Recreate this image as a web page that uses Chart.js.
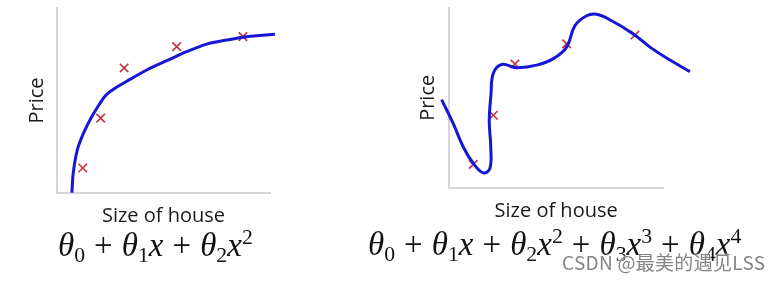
<!DOCTYPE html>
<html>
<head>
<meta charset="utf-8">
<script src="https://cdn.jsdelivr.net/npm/chart.js@4"></script>
<style>
  body { margin: 0; background: #fff; }
  #wrap { position: relative; width: 779px; height: 282px; overflow: hidden; background: #fff; }
  .box { position: absolute; }
  .f { position: absolute; font-family: "Liberation Serif", serif; font-size: 33px; line-height: 33px; color: #111; white-space: nowrap; }
  .f i { font-style: italic; }
  .f sub { font-size: 0.66em; vertical-align: -0.28em; line-height: 0; }
  .f sup { font-size: 0.66em; vertical-align: 0.55em; line-height: 0; }
  .f .op { margin: 0 9px; }
  #mark { position: absolute; left: 562px; top: 248px; font-family: "Noto Sans CJK SC", sans-serif; font-size: 19px; letter-spacing: 0.3px; color: rgba(110,110,110,0.85); text-shadow: 0 0 2px #fff, 0 0 2px #fff; white-space: nowrap; }
</style>
</head>
<body>
<div id="wrap">
  <div class="box" style="left:0px; top:0px; width:280px; height:232px;"><canvas id="c1"></canvas></div>
  <div class="box" style="left:400px; top:0px; width:300px; height:227px;"><canvas id="c2"></canvas></div>
  <div class="f" style="left:58px; top:229px;"><i>θ</i><sub>0</sub><span class="op">+</span><i>θ</i><sub>1</sub><i>x</i><span class="op">+</span><i>θ</i><sub>2</sub><i>x</i><sup>2</sup></div>
  <div class="f" style="left:368px; top:228px;"><i>θ</i><sub>0</sub><span class="op">+</span><i>θ</i><sub>1</sub><i>x</i><span class="op">+</span><i>θ</i><sub>2</sub><i>x</i><sup>2</sup><span class="op">+</span><i>θ</i><sub>3</sub><i>x</i><sup>3</sup><span class="op">+</span><i>θ</i><sub>4</sub><i>x</i><sup>4</sup></div>
  <div id="mark">CSDN @最美的遇见LSS</div>
</div>
<script>
// quadratic fit (left)
const fitX1 = [7.0, 7.6, 9.5, 12.4, 16.3, 20.2, 23.0, 27.2, 34.3, 42.1, 51.5, 60.9, 70.3, 79.7, 89.0, 102.3];
const fitY1 = [0.2, 10.6, 23.2, 32.2, 41.2, 48.5, 52.9, 56.6, 61.4, 66.5, 71.5, 76.4, 80.5, 82.7, 84.5, 85.8];
const ptsX1 = [12.1, 20.5, 31.5, 56.2, 87.3];
const ptsY1 = [13.5, 40.5, 67.6, 79.1, 84.5];

// quartic fit (right)
const fitX2 = [-3.6, 1.9, 6.6, 11.2, 15.9, 19.0, 19.4, 18.7, 19.5, 20.6, 24.5, 31.5, 40.9, 48.7, 54.9, 58.8, 64.3, 69.0, 76.0, 86.1, 93.9, 103.3, 112.6];
const fitY2 = [49.0, 35.5, 22.6, 13.7, 8.4, 10.9, 22.6, 37.2, 51.9, 63.6, 68.5, 66.7, 68.1, 71.7, 78.1, 90.0, 95.5, 96.3, 92.7, 85.4, 78.1, 70.9, 64.5];
const ptsX2 = [11.2, 20.6, 30.7, 54.9, 86.9];
const ptsY2 = [13.1, 40.3, 68.7, 79.9, 84.8];

const xTitle = "Size of house";
const yTitle = "Price";

function toXY(xs, ys) {
  return xs.map((x, i) => ({x: x, y: ys[i]}));
}

function makeChart(id, fx, fy, px, py, pad, yTitlePad, tension) {
  const titleFont = {family: "Open Sans", size: 20};
  return new Chart(document.getElementById(id), {
    type: "scatter",
    data: {
      datasets: [
        {
          data: toXY(fx, fy),
          showLine: true,
          borderColor: "#1616d6",
          borderWidth: 3,
          pointRadius: 0,
          tension: tension,
          clip: false,
          order: 1,
        },
        {
          data: toXY(px, py),
          pointStyle: "crossRot",
          pointRadius: 6,
          borderColor: "#c8323c",
          borderWidth: 1.6,
          clip: false,
          order: 2,
        },
      ],
    },
    options: {
      responsive: true,
      maintainAspectRatio: false,
      animation: false,
      layout: {padding: pad},
      plugins: {legend: {display: false}, tooltip: {enabled: false}},
      scales: {
        x: {
          type: "linear", min: 0, max: 100,
          grid: {display: false, drawTicks: false},
          border: {display: true, color: "#d6d6d6", width: 2},
          ticks: {display: false},
          title: {display: true, text: xTitle, font: titleFont, color: "#1a1a1a", padding: {top: 11, bottom: 4}},
        },
        y: {
          type: "linear", min: 0, max: 100,
          grid: {display: false, drawTicks: false},
          border: {display: true, color: "#d6d6d6", width: 2},
          ticks: {display: false},
          title: {display: true, text: yTitle, font: titleFont, color: "#1a1a1a", padding: yTitlePad},
        },
      },
    },
  });
}

makeChart("c1", fitX1, fitY1, ptsX1, ptsY1, {left: 21, top: 8, right: 10, bottom: 0}, {top: 4, bottom: 8}, 0.3);
makeChart("c2", fitX2, fitY2, ptsX2, ptsY2, {left: 12, top: 5, right: 37, bottom: 0}, {top: 4, bottom: 9.3}, 0.4);
</script>
</body>
</html>
